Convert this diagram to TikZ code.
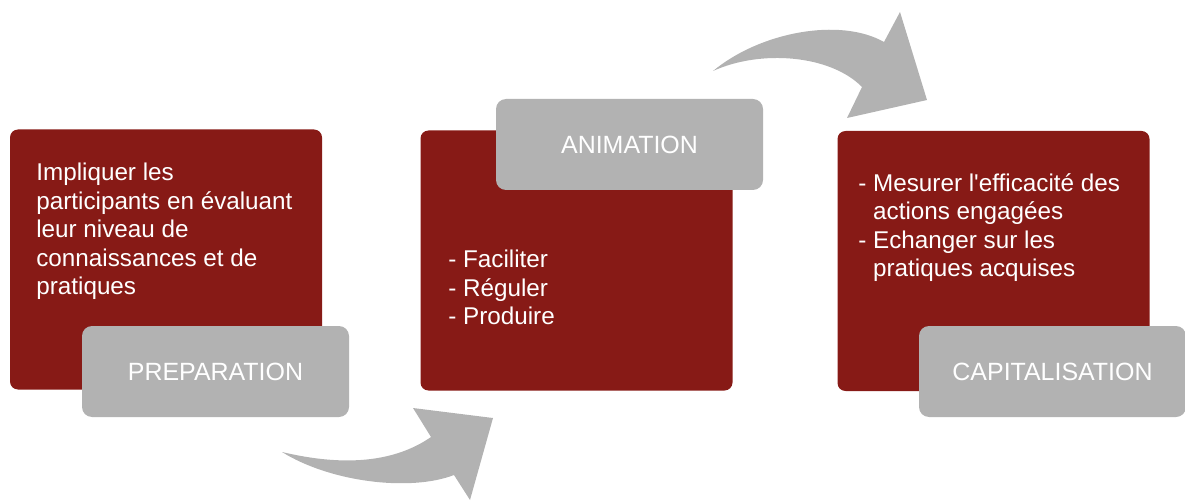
\documentclass[tikz,border=0pt]{standalone}
\usepackage{fontspec}
\setmainfont{Liberation Sans}
\usetikzlibrary{shapes.geometric,arrows,fit,positioning}
\definecolor{bordeaux}{RGB}{135,26,22}
\definecolor{gris}{RGB}{178,178,178}

\begin{document}
\begin{tikzpicture}
\tikzstyle{bloc}=[rectangle,fill=bordeaux,rounded corners=1.6mm,
inner sep=0pt,outer sep=0pt,
minimum width=62.4mm,minimum height=52mm]
\tikzstyle{etape}=[rectangle,fill=gris,rounded corners=2mm,
inner sep=0pt,outer sep=0pt,text=white,
minimum width=53.4mm,minimum height=18.2mm,
font=\fontsize{14.2}{17}\selectfont]
\tikzstyle{texte}=[text=white,align=left,inner sep=0pt,anchor=north west,
font=\fontsize{13.8}{16.2}\selectfont]

\useasboundingbox (0,0) rectangle (23.7,10.04);

\node[bloc] at (3.32,4.85) (1) {};
\node[bloc] at (11.53,4.83) (2) {};
\node[bloc] at (19.87,4.82) (3) {};
\node[etape] at (4.31,2.61) (1e) {PREPARATION};
\node[etape] at (12.59,7.15) (2e) {ANIMATION};
\node[etape] at (21.05,2.61) (3e) {CAPITALISATION};

\node[texte] at (0.72,6.78) (1t) {Impliquer les\\participants en évaluant\\leur niveau de\\connaissances et de\\pratiques};
\node[texte] at (8.96,5.04) (2t) {- Faciliter\\- Réguler\\- Produire};
\node[texte] at (17.16,6.58) (3t) {- Mesurer l\textquotesingle efficacité des\\\hphantom{- }actions engagées\\- Echanger sur les\\\hphantom{- }pratiques acquises};

\fill[gris] (5.64,1.00) .. controls (6.9,0.7) and (7.9,0.8) .. (8.62,1.30)
 -- (8.26,1.88) -- (9.86,1.68) -- (9.40,0.04) -- (9.08,0.54)
 .. controls (8.2,0.2) and (6.6,0.4) .. (5.64,1.00) -- cycle;
\fill[gris] (14.26,8.62) .. controls (15.2,9.4) and (16.8,9.7) .. (17.68,9.2)
 -- (18.0,9.80) -- (18.54,8.04) -- (16.94,7.68) -- (17.24,8.30)
 .. controls (16.6,8.95) and (15.2,9.05) .. (14.26,8.62) -- cycle;

\end{tikzpicture}
\end{document}
